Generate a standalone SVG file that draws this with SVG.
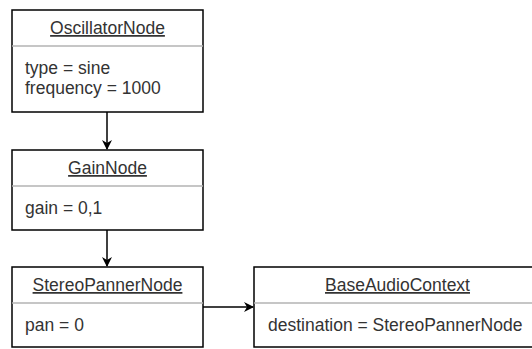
<svg xmlns="http://www.w3.org/2000/svg" width="532" height="349" viewBox="0 0 532 349">
  <style>
    .box { fill: #ffffff; stroke: #000000; stroke-width: 1.5; }
    .sep { stroke: #b3b3b3; stroke-width: 1.5; }
    .title { font-family: "Liberation Sans", Arial, sans-serif; font-size: 17.5px; fill: #333333; text-anchor: middle; text-decoration: underline; }
    .attr { font-family: "Liberation Sans", Arial, sans-serif; font-size: 17.5px; fill: #333333; }
    .edge { fill: none; stroke: #000000; stroke-width: 1.5; }
  </style>
  <defs>
    <marker id="arrow" markerWidth="10" markerHeight="10" refX="9" refY="5" orient="auto" markerUnits="userSpaceOnUse">
      <path d="M0,0 L10,5 L0,10 L3,5 Z" fill="#000000"/>
    </marker>
  </defs>
  <rect width="532" height="349" fill="#ffffff"/>

  <g id="connectors">
    <line class="edge" x1="107" y1="112" x2="107" y2="149" marker-end="url(#arrow)"/>
    <line class="edge" x1="107" y1="230" x2="107" y2="266" marker-end="url(#arrow)"/>
    <line class="edge" x1="203" y1="307" x2="253" y2="307" marker-end="url(#arrow)"/>
  </g>

  <g id="oscillator-node">
    <rect class="box" x="12" y="10" width="191" height="102"/>
    <line class="sep" x1="12" y1="46" x2="203" y2="46"/>
    <text class="title" x="107.5" y="34">OscillatorNode</text>
    <text class="attr" x="25" y="74">type = sine</text>
    <text class="attr" x="25" y="94">frequency = 1000</text>
  </g>

  <g id="gain-node">
    <rect class="box" x="12" y="150" width="191" height="80"/>
    <line class="sep" x1="12" y1="186" x2="203" y2="186"/>
    <text class="title" x="107.5" y="174">GainNode</text>
    <text class="attr" x="25" y="214">gain = 0,1</text>
  </g>

  <g id="stereo-panner-node">
    <rect class="box" x="12" y="267" width="191" height="80"/>
    <line class="sep" x1="12" y1="303" x2="203" y2="303"/>
    <text class="title" x="107.5" y="291">StereoPannerNode</text>
    <text class="attr" x="25" y="331">pan = 0</text>
  </g>

  <g id="base-audio-context">
    <rect class="box" x="254" y="267" width="287" height="80"/>
    <line class="sep" x1="254" y1="303" x2="541" y2="303"/>
    <text class="title" x="397.5" y="291">BaseAudioContext</text>
    <text class="attr" x="268" y="331">destination = StereoPannerNode</text>
  </g>
</svg>
